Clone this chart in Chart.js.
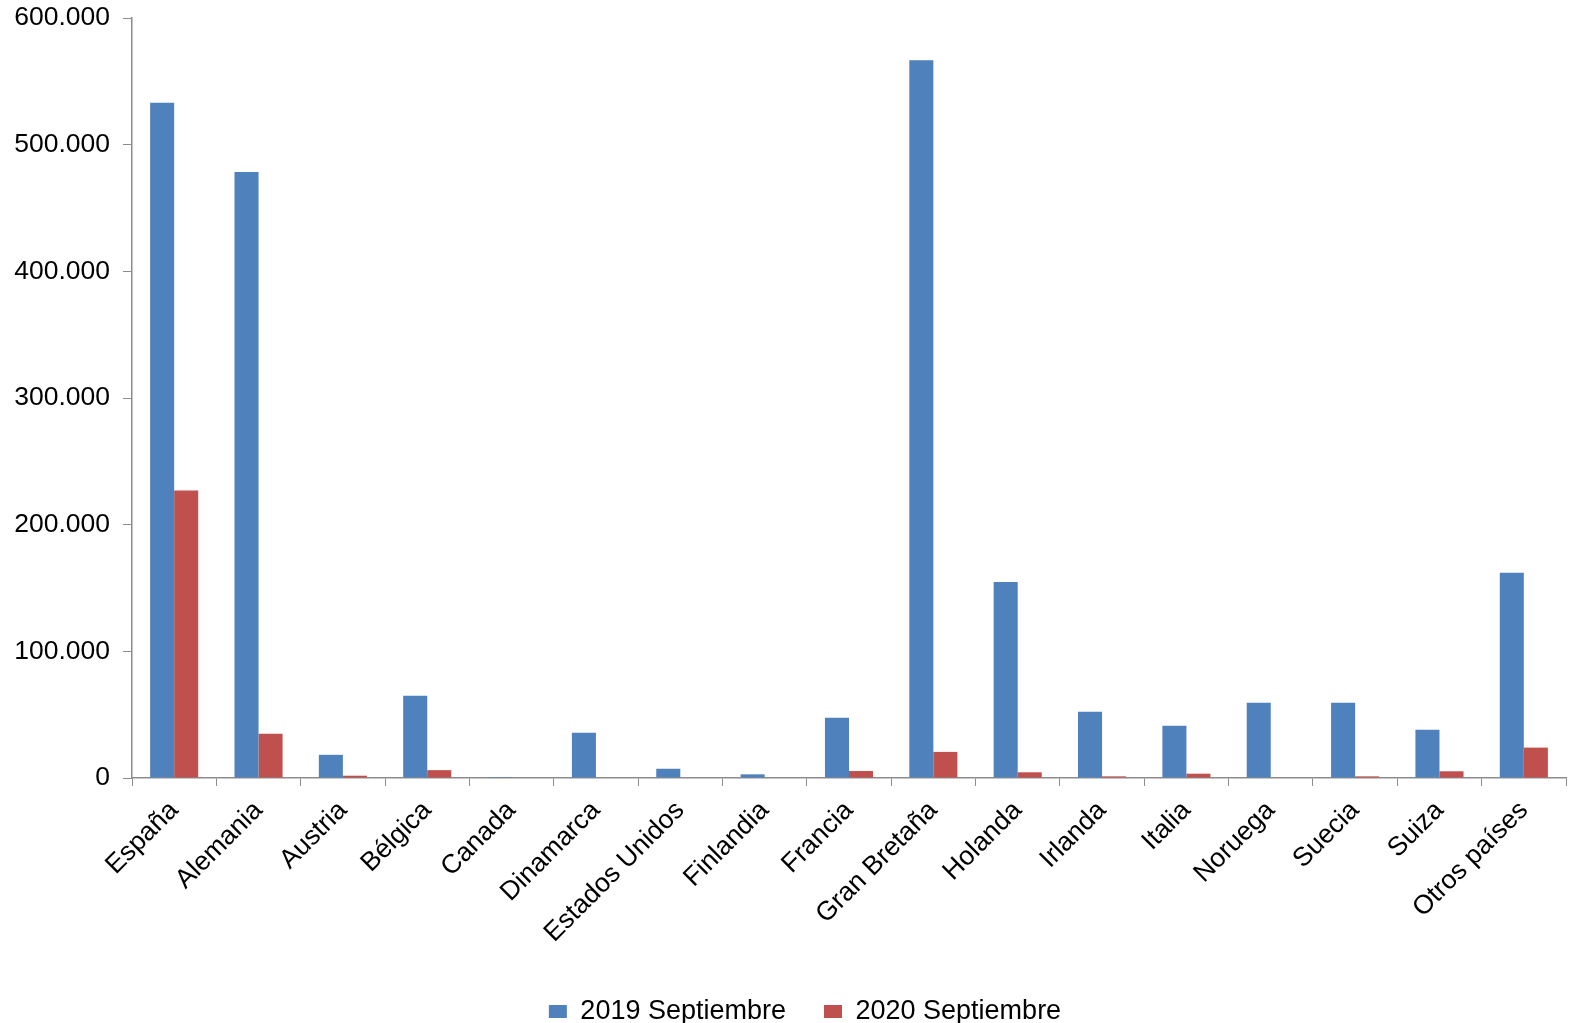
<!DOCTYPE html>
<html>
<head>
<meta charset="utf-8">
<script src="https://cdn.jsdelivr.net/npm/chart.js@4.4.1/dist/chart.umd.min.js"></script>
<style>
  html, body { margin: 0; padding: 0; background: #fff; }
  #wrap { width: 1574px; height: 1023px; }
</style>
</head>
<body>
<div id="wrap"><canvas id="chart"></canvas></div>
<script>
// categories and series
const paises = ['España', 'Alemania', 'Austria', 'Bélgica', 'Canada', 'Dinamarca', 'Estados Unidos',
  'Finlandia', 'Francia', 'Gran Bretaña', 'Holanda', 'Irlanda', 'Italia', 'Noruega', 'Suecia', 'Suiza', 'Otros países'];
const sep2019 = [533000, 478500, 18300, 65000, 800, 35700, 7300, 2900, 47600, 566700, 154800, 52400, 41300, 59500, 59500, 38000, 162000];
const sep2020 = [227000, 35000, 1800, 6200, 0, 0, 400, 0, 5500, 20600, 4500, 1300, 3400, 400, 1300, 5300, 24000];
const yTicks = [0, 100000, 200000, 300000, 400000, 500000, 600000];

const tickFont = { family: 'Liberation Sans, Arial, sans-serif', size: 26.5 };
const legendFont = { family: 'Liberation Sans, Arial, sans-serif', size: 27 };
const axisGrey = '#8c8c8c';

// number format with dots as thousands separator
const fmt = v => String(v).replace(/\B(?=(\d{3})+(?!\d))/g, '.');

// nudge the legend a bit to the right, like the original
const shiftLegend = {
  id: 'shiftLegend',
  afterLayout(chart) {
    chart.legend.left += 22;
    chart.legend.right += 22;
  }
};

document.addEventListener('DOMContentLoaded', () => {
  new Chart(document.getElementById('chart'), {
    type: 'bar',
    data: {
      labels: paises,
      datasets: [
        { label: '2019 Septiembre', data: sep2019, backgroundColor: '#4F81BD' },
        { label: '2020 Septiembre', data: sep2020, backgroundColor: '#C0504D' }
      ]
    },
    plugins: [shiftLegend],
    options: {
      responsive: true,
      maintainAspectRatio: false,
      animation: false,
      categoryPercentage: 0.57,
      barPercentage: 1.0,
      layout: { padding: { top: 18, right: 8, left: 0, bottom: -12 } },
      plugins: {
        tooltip: { enabled: false },
        legend: {
          position: 'bottom',
          labels: {
            font: legendFont,
            color: '#000',
            boxWidth: 18,
            boxHeight: 13,
            padding: 38
          }
        }
      },
      scales: {
        x: {
          grid: { drawOnChartArea: false, drawTicks: true, tickLength: 8, color: axisGrey },
          border: { color: axisGrey, width: 1.5 },
          ticks: { font: tickFont, color: '#000', maxRotation: 45, minRotation: 45, autoSkip: false, padding: 9 },
          afterFit: axis => { axis.height = 182; }
        },
        y: {
          min: 0,
          max: 600000,
          afterBuildTicks: axis => { axis.ticks = yTicks.map(v => ({ value: v })); },
          grid: { drawOnChartArea: false, drawTicks: true, tickLength: 9, color: axisGrey },
          border: { color: axisGrey, width: 1.5 },
          ticks: { font: tickFont, color: '#000', padding: 13, callback: v => fmt(v) },
          afterFit: axis => {
            axis.width = 132;
            axis.paddingTop = 0;
            axis.paddingBottom = 0;
          }
        }
      }
    }
  });
});
</script>
</body>
</html>
